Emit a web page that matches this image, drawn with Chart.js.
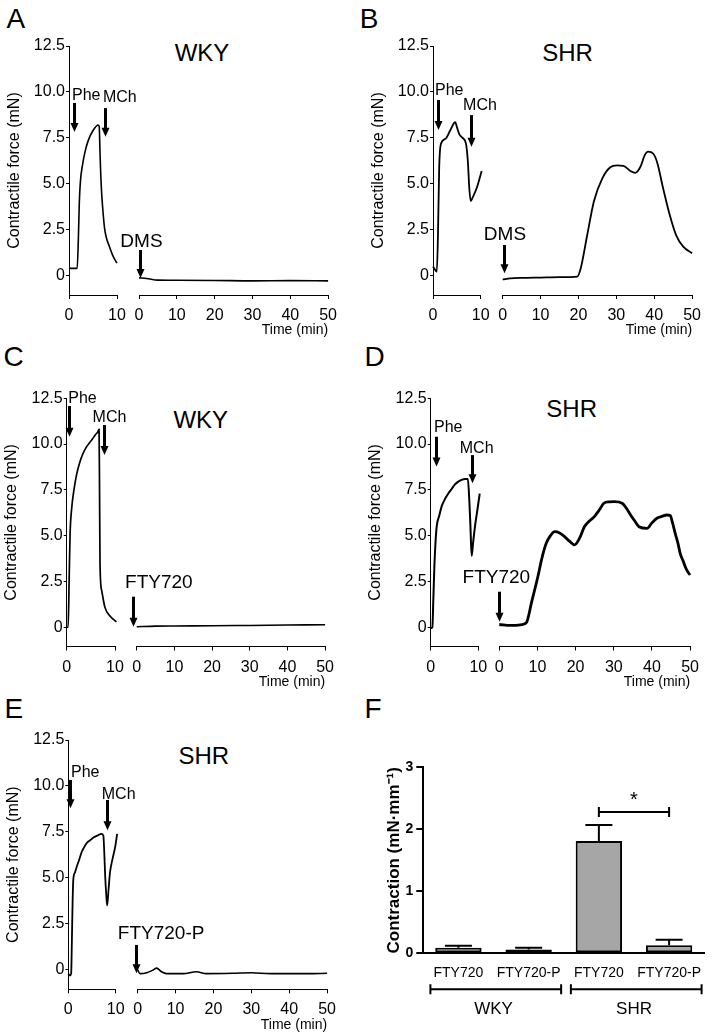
<!DOCTYPE html>
<html><head><meta charset="utf-8">
<script src="https://cdn.jsdelivr.net/npm/chart.js@4.4.1/dist/chart.umd.min.js"></script>
<style>
html,body{margin:0;padding:0;background:#fff}
body{width:715px;height:1034px;position:relative;overflow:hidden;font-family:"Liberation Sans",Arial,Helvetica,sans-serif;color:#000}
canvas{position:absolute}
.t{position:absolute;white-space:nowrap;line-height:1;color:#000}
.ttl{position:absolute;white-space:nowrap;line-height:1;width:120px;text-align:center;font-size:24px}
</style></head><body>
<div class="t" style="left:6.5px;top:4.6px;font-size:28px">A</div>
<div class="t" style="left:359.7px;top:4.6px;font-size:28px">B</div>
<div class="t" style="left:3.6px;top:343px;font-size:28px">C</div>
<div class="t" style="left:364.5px;top:343px;font-size:28px">D</div>
<div class="t" style="left:4.5px;top:694.6px;font-size:28px">E</div>
<div class="t" style="left:364.5px;top:694.6px;font-size:28px">F</div>
<div class="ttl" style="left:142px;top:41.4px">WKY</div>
<div class="ttl" style="left:507.5px;top:40.7px">SHR</div>
<div class="ttl" style="left:140.8px;top:408px">WKY</div>
<div class="ttl" style="left:511.7px;top:397px">SHR</div>
<div class="ttl" style="left:143.8px;top:743.7px">SHR</div>
<script>
// ---------- axis ticks ----------
const forceTickValues = [0, 2.5, 5, 7.5, 10, 12.5];
const forceTickLabels = ['0', '2.5', '5.0', '7.5', '10.0', '12.5'];
const preTimeTicks = [0, 10];
const postTimeTicks = [0, 10, 20, 30, 40, 50];

// ---------- A: WKY, DMS ----------
const aPreTime  = [0, 0.5, 1.0, 1.7, 1.95, 2.15, 2.4, 2.8, 3.3, 4.0, 5.0, 6.1, 6.3, 6.45, 6.6, 6.8, 7.0, 7.4, 7.8, 8.4, 9.2, 10.0];
const aPreForce = [0.42, 0.4, 0.4, 0.4, 2.0, 4.0, 5.2, 6.0, 6.7, 7.35, 7.9, 8.2, 8.1, 6.8, 5.6, 4.5, 3.75, 2.6, 2.05, 1.6, 1.05, 0.68];
const aPostTime  = [0, 2, 5, 10, 20, 30, 40, 50];
const aPostForce = [-0.12, -0.15, -0.24, -0.25, -0.26, -0.28, -0.27, -0.28];

// ---------- B: SHR, DMS ----------
const bPreTime  = [0, 0.5, 0.8, 1.04, 1.3, 1.7, 2.6, 3.6, 4.65, 5.0, 5.5, 6.2, 6.9, 7.3, 7.6, 7.9, 8.3, 9.2, 10.2];
const bPreForce = [0.5, 0.3, 0.22, 2.2, 5.9, 7.2, 7.45, 7.9, 8.35, 8.1, 7.7, 7.5, 7.2, 6.25, 4.8, 4.06, 4.25, 4.8, 5.7];
const bPostTime  = [0, 2, 5, 10, 15, 19.7, 20.6, 22.3, 24.1, 26.3, 28.4, 30.2, 31.9, 33.7, 35.0, 36.3, 37.6, 38.4, 39.7, 40.8, 42.3, 44.1, 45.8, 47.6, 50];
const bPostForce = [-0.2, -0.15, -0.12, -0.1, -0.08, -0.05, 0.4, 2.2, 4.06, 5.3, 5.9, 6.0, 5.98, 5.7, 5.6, 5.9, 6.6, 6.75, 6.65, 6.15, 4.8, 3.3, 2.2, 1.6, 1.22];

// ---------- C: WKY, FTY720 ----------
const cPreTime  = [0, 0.3, 0.5, 0.7, 1.0, 1.5, 2.1, 2.7, 3.4, 4.1, 4.8, 5.4, 5.9, 6.4, 6.7, 6.8, 6.9, 7.25, 7.9, 9.0, 10.3];
const cPreForce = [0, 0, 2.5, 5.1, 6.4, 7.5, 8.4, 9.0, 9.5, 9.85, 10.1, 10.3, 10.5, 10.65, 10.8, 7.5, 3.4, 2.0, 1.1, 0.6, 0.3];
const cPostTime  = [0, 5, 10, 20, 30, 40, 50];
const cPostForce = [0.03, 0.06, 0.07, 0.08, 0.1, 0.12, 0.14];

// ---------- D: SHR, FTY720 ----------
const dPreTime  = [0, 0.35, 0.55, 0.77, 1.0, 1.26, 1.8, 2.3, 3.0, 3.7, 4.4, 5.1, 5.8, 6.5, 7.2, 7.8, 8.1, 8.35, 8.6, 8.9, 9.3, 9.8, 10.3];
const dPreForce = [-0.05, 0, 1.5, 3.3, 4.6, 5.5, 6.1, 6.6, 7.0, 7.3, 7.55, 7.8, 7.95, 8.05, 8.1, 8.1, 7.0, 5.5, 3.9, 4.6, 5.5, 6.4, 7.3];
const dPostTime  = [0, 3, 6, 7.1, 8.5, 10.1, 11.2, 12.3, 13.4, 14.5, 15.8, 17.1, 18.4, 19.7, 21.0, 22.3, 23.6, 24.9, 26.2, 27.4, 28.8, 30.1, 32.2, 33.3, 34.4, 35.5, 36.6, 38.7, 40.0, 41.3, 42.6, 43.9, 44.8, 45.4, 46.1, 46.8, 47.4, 48.2, 49.1, 50];
const dPostForce = [0.15, 0.1, 0.15, 0.25, 1.4, 2.76, 3.8, 4.58, 5.0, 5.22, 5.15, 4.95, 4.7, 4.5, 4.85, 5.49, 5.8, 6.04, 6.4, 6.77, 6.85, 6.86, 6.77, 6.5, 6.13, 5.8, 5.49, 5.4, 5.7, 5.95, 6.05, 6.13, 6.1, 5.7, 5.13, 4.6, 4.04, 3.6, 3.13, 2.85];

// ---------- E: SHR, FTY720-P ----------
const ePreTime  = [0, 0.35, 0.6, 0.75, 0.9, 1.05, 1.4, 1.76, 2.3, 2.8, 3.3, 3.9, 4.6, 5.3, 6.1, 7.0, 7.4, 7.6, 7.8, 8.0, 8.2, 8.5, 8.8, 9.3, 9.9, 10.3, 10.7];
const ePreForce = [-0.2, -0.3, -0.2, 1.5, 3.6, 4.9, 5.3, 5.6, 6.0, 6.4, 6.65, 6.9, 7.05, 7.2, 7.3, 7.4, 7.3, 6.3, 5.0, 4.1, 3.5, 4.4, 5.3, 6.0, 6.7, 7.4, 8.1];
const ePostTime  = [0, 0.6, 2.4, 4.1, 5.0, 6.3, 7.6, 12, 15.5, 18.1, 25, 30, 35, 40, 45, 50];
const ePostForce = [0, -0.2, -0.15, 0, 0.1, -0.1, -0.2, -0.2, -0.1, -0.2, -0.18, -0.15, -0.2, -0.2, -0.2, -0.18];

// ---------- F: bar chart ----------
const fCategories = ['FTY720', 'FTY720-P', 'FTY720', 'FTY720-P'];
const fGroups = ['WKY', 'SHR'];
const fMeans = [0.09, 0.06, 1.81, 0.13];
const fSem = [0.03, 0.03, 0.26, 0.09];
const fTickValues = [0, 1, 2, 3];

// ================= drawing =================
const FONT = '"Liberation Sans", Arial, Helvetica, sans-serif';
Chart.defaults.font.family = FONT;
Chart.defaults.color = '#000';
Chart.defaults.animation = false;

function place(left, top, w, h) {
  const c = document.createElement('canvas');
  c.width = w; c.height = h;
  c.style.left = left + 'px'; c.style.top = top + 'px';
  c.style.width = w + 'px'; c.style.height = h + 'px';
  document.body.appendChild(c);
  return c;
}

const annotPlugin = {
  id: 'annot',
  afterDraw(chart, args, o) {
    const ctx = chart.ctx, xs = chart.scales.x, ys = chart.scales.y;
    ctx.save();
    ctx.fillStyle = '#000'; ctx.strokeStyle = '#000';
    (o.arrows || []).forEach(a => {
      const px = Math.round(xs.getPixelForValue(a.t)) + 0.5;
      const p0 = ys.getPixelForValue(a.top), p1 = ys.getPixelForValue(a.tip);
      const hl = 9, hw = 4;
      ctx.lineWidth = 3;
      ctx.beginPath(); ctx.moveTo(px, p0); ctx.lineTo(px, p1 - hl + 1); ctx.stroke();
      ctx.beginPath(); ctx.moveTo(px - hw, p1 - hl); ctx.lineTo(px + hw, p1 - hl); ctx.lineTo(px, p1); ctx.closePath(); ctx.fill();
    });
    (o.labels || []).forEach(l => {
      ctx.font = l.size + 'px ' + FONT;
      ctx.textAlign = l.align || 'center';
      ctx.textBaseline = 'alphabetic';
      ctx.fillText(l.text, xs.getPixelForValue(l.t), ys.getPixelForValue(l.v));
    });
    ctx.restore();
  }
};

const Y_W = 64.5, X_H = 44;
function makeTrace(cfg) {
  const yW = cfg.yAxis ? Y_W : 0;
  const left = Math.floor(cfg.L - yW - (cfg.ml || 2));
  const top = Math.floor(cfg.T - 40);
  const right = Math.ceil(cfg.R + (cfg.mr || 14));
  const bottom = Math.ceil(cfg.B + X_H + 4);
  const cv = place(left, top, right - left, bottom - top);
  const pad = { left: cfg.L - yW - left, top: cfg.T - top, right: right - cfg.R, bottom: bottom - cfg.B - X_H };
  const xTicks = cfg.xTicks;
  new Chart(cv, {
    type: 'line',
    data: { datasets: [{
      data: cfg.t.map((t, i) => ({ x: t, y: cfg.f[i] })),
      borderColor: '#000', borderWidth: cfg.lw || 1.6, pointRadius: 0,
      cubicInterpolationMode: 'monotone', clip: false, fill: false
    }] },
    options: {
      responsive: false, animation: false, events: [],
      layout: { padding: pad },
      plugins: { legend: { display: false }, tooltip: { enabled: false },
        annot: { arrows: cfg.arrows, labels: cfg.labels } },
      scales: {
        x: {
          type: 'linear', min: 0, max: cfg.xMax,
          afterBuildTicks: s => { s.ticks = xTicks.map(v => ({ value: v })); },
          afterFit: s => { s.height = X_H; },
          ticks: { font: { size: 16 }, padding: 7, maxRotation: 0, autoSkip: false, callback: v => String(v) },
          grid: { display: true, drawOnChartArea: false, drawTicks: true, tickLength: 4, color: '#000', lineWidth: 1 },
          border: { display: true, color: '#000', width: 1 },
          title: cfg.xTitle ? { display: true, text: cfg.xTitle, align: 'end', font: { size: 14 }, padding: 0 } : { display: false }
        },
        y: {
          display: !!cfg.yAxis, min: -1.05, max: 12.5,
          afterBuildTicks: s => { s.ticks = forceTickValues.map(v => ({ value: v })); },
          afterFit: s => { s.width = yW; },
          ticks: { font: { size: 16 }, padding: 1, autoSkip: false, callback: (v, i) => forceTickLabels[i] },
          grid: { display: true, drawOnChartArea: false, drawTicks: true, tickLength: 3, color: '#000', lineWidth: 1 },
          border: { display: true, color: '#000', width: 1 },
          title: { display: true, text: 'Contractile force (mN)', font: { size: 16 }, padding: 0 }
        }
      }
    },
    plugins: [annotPlugin]
  });
}

// ---- panel A ----
makeTrace({ L: 69, T: 46, R: 117, B: 295, mr: 26, yAxis: true, xMax: 10, xTicks: preTimeTicks, t: aPreTime, f: aPreForce, lw: 1.6,
  arrows: [{ t: 1.04, top: 9.4, tip: 7.82 }, { t: 7.56, top: 9.12, tip: 7.56 }],
  labels: [{ text: 'Phe', t: 0.63, v: 9.56, size: 16, align: 'left' }, { text: 'MCh', t: 10.6, v: 9.47, size: 16 }] });
makeTrace({ L: 139, T: 46, R: 330, B: 295, ml: 32, xMax: 50, xTicks: postTimeTicks, t: aPostTime, f: aPostForce, lw: 1.6, xTitle: 'Time (min)',
  arrows: [{ t: 0.34, top: 1.4, tip: -0.13 }],
  labels: [{ text: 'DMS', t: 0.65, v: 1.58, size: 19 }] });
// ---- panel B ----
makeTrace({ L: 433, T: 46, R: 480.7, B: 295, mr: 26, yAxis: true, xMax: 10, xTicks: preTimeTicks, t: bPreTime, f: bPreForce, lw: 1.8,
  arrows: [{ t: 1.11, top: 9.56, tip: 7.93 }, { t: 7.97, top: 8.74, tip: 7.02 }],
  labels: [{ text: 'Phe', t: 0.42, v: 9.83, size: 16, align: 'left' }, { text: 'MCh', t: 9.85, v: 9.02, size: 16 }] });
makeTrace({ L: 502.7, T: 46, R: 694, B: 295, ml: 32, xMax: 50, xTicks: postTimeTicks, t: bPostTime, f: bPostForce, lw: 1.8, xTitle: 'Time (min)',
  arrows: [{ t: 0.42, top: 1.67, tip: 0.13 }],
  labels: [{ text: 'DMS', t: 0.6, v: 1.94, size: 19 }] });
// ---- panel C ----
makeTrace({ L: 66.7, T: 398.3, R: 115, B: 646.5, mr: 26, yAxis: true, xMax: 10, xTicks: preTimeTicks, t: cPreTime, f: cPreForce, lw: 1.7,
  arrows: [{ t: 0.48, top: 12.08, tip: 10.4 }, { t: 7.78, top: 11.04, tip: 9.4 }],
  labels: [{ text: 'Phe', t: 0.33, v: 12.26, size: 16, align: 'left' }, { text: 'MCh', t: 8.86, v: 11.19, size: 16 }] });
makeTrace({ L: 136.7, T: 398.3, R: 326.7, B: 646.5, ml: 32, xMax: 50, xTicks: postTimeTicks, t: cPostTime, f: cPostForce, lw: 1.6, xTitle: 'Time (min)',
  arrows: [{ t: -0.89, top: 1.67, tip: 0.03 }],
  labels: [{ text: 'FTY720', t: 5.87, v: 2.13, size: 19 }] });
// ---- panel D ----
makeTrace({ L: 430.7, T: 398.3, R: 478.3, B: 646.5, mr: 26, yAxis: true, xMax: 10, xTicks: preTimeTicks, t: dPreTime, f: dPreForce, lw: 2,
  arrows: [{ t: 1.05, top: 10.4, tip: 8.77 }, { t: 8.74, top: 9.4, tip: 7.86 }],
  labels: [{ text: 'Phe', t: 0.69, v: 10.68, size: 16, align: 'left' }, { text: 'MCh', t: 9.66, v: 9.5, size: 16 }] });
makeTrace({ L: 499.3, T: 398.3, R: 691.7, B: 646.5, ml: 40, xMax: 50, xTicks: postTimeTicks, t: dPostTime, f: dPostForce, lw: 2.8, xTitle: 'Time (min)',
  arrows: [{ t: 0, top: 1.94, tip: 0.3 }],
  labels: [{ text: 'FTY720', t: -0.78, v: 2.4, size: 19 }] });
// ---- panel E ----
makeTrace({ L: 68.3, T: 740, R: 115.7, B: 989.3, mr: 26, yAxis: true, xMax: 10, xTicks: preTimeTicks, t: ePreTime, f: ePreForce, lw: 1.8,
  arrows: [{ t: 0.42, top: 10.33, tip: 8.79 }, { t: 8.23, top: 9.24, tip: 7.6 }],
  labels: [{ text: 'Phe', t: 0.57, v: 10.47, size: 16, align: 'left' }, { text: 'MCh', t: 10.63, v: 9.29, size: 16 }] });
makeTrace({ L: 137.7, T: 740, R: 328.3, B: 989.3, ml: 32, xMax: 50, xTicks: postTimeTicks, t: ePostTime, f: ePostForce, lw: 1.6, xTitle: 'Time (min)',
  arrows: [{ t: -0.52, top: 1.36, tip: -0.18 }],
  labels: [{ text: 'FTY720-P', t: 6.19, v: 1.67, size: 19 }] });

// ---- panel F ----
const barExtras = {
  id: 'barExtras',
  afterDatasetsDraw(chart) {
    const ctx = chart.ctx, xs = chart.scales.x, ys = chart.scales.y;
    const meta = chart.getDatasetMeta(0);
    ctx.save();
    ctx.strokeStyle = '#000'; ctx.fillStyle = '#000'; ctx.lineWidth = 2;
    meta.data.forEach((bar, i) => {
      const top = ys.getPixelForValue(fMeans[i] + fSem[i]);
      ctx.beginPath();
      ctx.moveTo(bar.x, bar.y); ctx.lineTo(bar.x, top);
      ctx.moveTo(bar.x - 13.5, top); ctx.lineTo(bar.x + 13.5, top);
      ctx.stroke();
    });
    const sx0 = xs.getPixelForValue(2), sx1 = xs.getPixelForValue(3), sy = ys.getPixelForValue(2.28);
    ctx.beginPath();
    ctx.moveTo(sx0, sy); ctx.lineTo(sx1, sy);
    ctx.moveTo(sx0, sy - 5); ctx.lineTo(sx0, sy + 5);
    ctx.moveTo(sx1, sy - 5); ctx.lineTo(sx1, sy + 5);
    ctx.stroke();
    ctx.font = '20px ' + FONT; ctx.textAlign = 'center'; ctx.textBaseline = 'alphabetic';
    ctx.fillText('*', (sx0 + sx1) / 2, sy - 6.2);
    const gy = chart.chartArea.bottom + 36;
    fGroups.forEach((g, k) => {
      const a = xs.getPixelForValue(2 * k) - 28, b = xs.getPixelForValue(2 * k + 1) + 32.5;
      ctx.beginPath();
      ctx.moveTo(a, gy); ctx.lineTo(b, gy);
      ctx.moveTo(a, gy - 5); ctx.lineTo(a, gy + 5);
      ctx.moveTo(b, gy - 5); ctx.lineTo(b, gy + 5);
      ctx.stroke();
      ctx.font = '17px ' + FONT;
      ctx.fillText(g, (xs.getPixelForValue(2 * k) + xs.getPixelForValue(2 * k + 1)) / 2, gy + 24.5);
    });
    ctx.restore();
  }
};
(function () {
  const L = 423.3, T = 767.3, R = 705, B = 953.3, yW = 39.5, xH = 30;
  const left = 355, top = 747, right = 713, bottom = 1034;
  const cv = place(left, top, right - left, bottom - top);
  new Chart(cv, {
    type: 'bar',
    data: { labels: fCategories, datasets: [{
      data: fMeans,
      backgroundColor: c => (c.dataIndex < 2 ? '#ffffff' : '#a6a6a6'),
      borderColor: '#000', borderWidth: 2, borderSkipped: false,
      barPercentage: 0.66, categoryPercentage: 1
    }] },
    options: {
      responsive: false, animation: false, events: [],
      layout: { padding: { left: L - yW - left, top: T - top, right: right - R, bottom: bottom - B - xH } },
      plugins: { legend: { display: false }, tooltip: { enabled: false } },
      scales: {
        x: {
          afterFit: s => { s.height = xH; },
          ticks: { font: { size: 14 }, padding: 11, maxRotation: 0, autoSkip: false },
          grid: { display: false, drawTicks: false },
          border: { display: true, color: '#000', width: 2 }
        },
        y: {
          min: 0, max: 3,
          afterBuildTicks: s => { s.ticks = fTickValues.map(v => ({ value: v })); },
          afterFit: s => { s.width = yW; },
          ticks: { font: { size: 14, weight: 'bold' }, padding: 3, callback: v => String(v) },
          grid: { display: true, drawOnChartArea: false, drawTicks: true, tickLength: 7, color: '#000', lineWidth: 2 },
          border: { display: true, color: '#000', width: 2 },
          title: { display: true, text: 'Contraction (mN·mm⁻¹)', font: { size: 17, weight: 'bold' }, padding: 0 }
        }
      }
    },
    plugins: [barExtras]
  });
})();
</script>
</body></html>
